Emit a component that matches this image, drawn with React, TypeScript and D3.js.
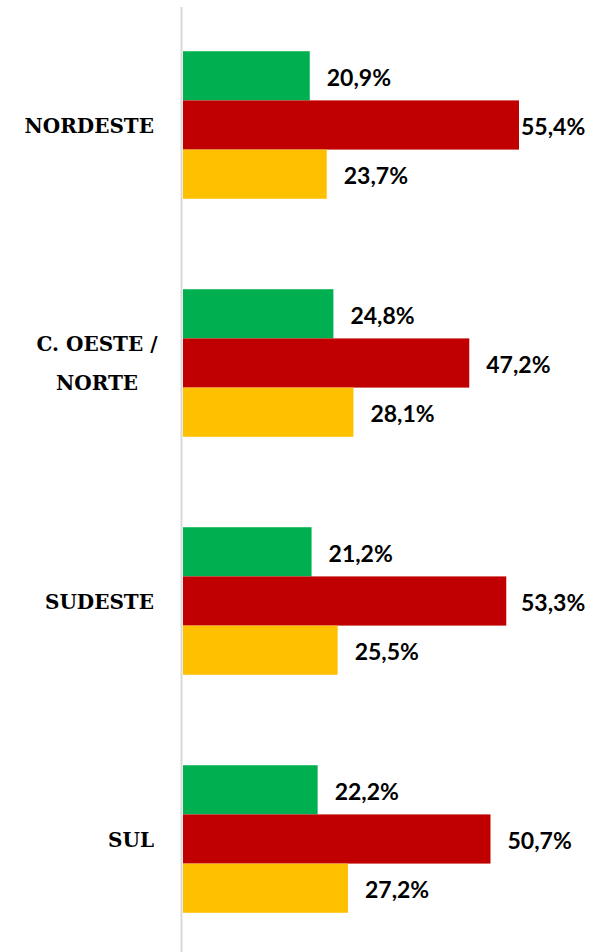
import React from "react";
import * as d3 from "d3";

const categories = ["NORDESTE", "C. OESTE /\nNORTE", "SUDESTE", "SUL"];
const seriesNames = ["A", "B", "C"];
const greenValues = [20.9, 24.8, 21.2, 22.2];
const redValues = [55.4, 47.2, 53.3, 50.7];
const yellowValues = [23.7, 28.1, 25.5, 27.2];
const colors = ["#00B050", "#C00000", "#FFC000"];

const W = 596;
const H = 952;

export default function App() {
  const series = [greenValues, redValues, yellowValues];
  const x = d3.scaleLinear().domain([0, 60]).range([183, 183 + 60 * 6.065]);
  const y = d3
    .scaleBand<string>()
    .domain(categories)
    .range([6, 958])
    .paddingInner(0.38)
    .paddingOuter(0.19);
  const yi = d3.scaleBand<string>().domain(seriesNames).range([0, y.bandwidth()]).padding(0);

  const fmt = (v: number) => v.toFixed(1).replace(".", ",") + "%";
  const labelW = 64;
  const labelGap = 17;
  const rightLimit = 585;

  return (
    <div style={{ position: "absolute", left: 0, top: 0, width: W, height: H, background: "#fff" }}>
      <svg width={W} height={H} style={{ display: "block" }}>
        {categories.map((c, ci) =>
          series.map((vals, si) => {
            const v = vals[ci];
            const y0 = (y(c) as number) + (yi(seriesNames[si]) as number);
            const lx = Math.min(x(v) + labelGap, rightLimit - labelW);
            return (
              <g key={c + si}>
                <rect x={x(0)} y={y0} width={x(v) - x(0)} height={yi.bandwidth()} fill={colors[si]} />
                <text
                  x={lx}
                  y={y0 + yi.bandwidth() / 2 + 4}
                  dominantBaseline="middle"
                  fontFamily="Lato, 'Open Sans', sans-serif"
                  fontWeight={700}
                  fontSize={23}
                  fill="#000"
                >
                  {fmt(v)}
                </text>
              </g>
            );
          })
        )}
        <line x1={181.5} x2={181.5} y1={7} y2={952} stroke="#D9D9D9" strokeWidth={2} />
        {categories.map((c) => {
          const lines = c.split("\n");
          const cy = (y(c) as number) + y.bandwidth() / 2;
          const lh = 39;
          const multi = lines.length > 1;
          return (
            <text
              key={c}
              textAnchor={multi ? "middle" : "end"}
              fontFamily="'DejaVu Serif', serif"
              fontWeight={700}
              fontSize={20}
              fill="#000"
            >
              {lines.map((l, li) => (
                <tspan
                  key={li}
                  x={multi ? 97 : 154}
                  y={cy + 2 + (li - (lines.length - 1) / 2) * lh}
                  dominantBaseline="middle"
                >
                  {l}
                </tspan>
              ))}
            </text>
          );
        })}
      </svg>
    </div>
  );
}
